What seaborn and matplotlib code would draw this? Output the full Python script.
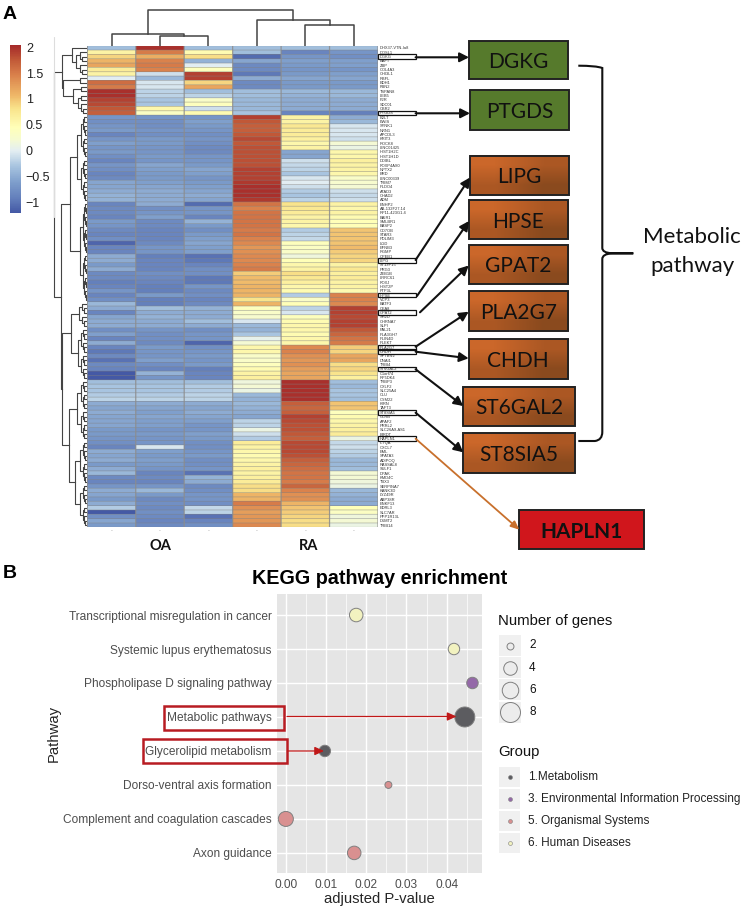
#!/usr/bin/env python3
import matplotlib
matplotlib.use("Agg")
import matplotlib.pyplot as plt
from matplotlib.colors import LinearSegmentedColormap
from matplotlib.patches import PathPatch, Rectangle
from matplotlib.path import Path
import numpy as np
import pandas as pd
import seaborn as sns

W, H = 744, 909

# Panel A, heatmap values by sample, rows top to bottom
samples = ["OA1", "OA2", "OA3", "RA1", "RA2", "RA3"]
genes = [
    "DHX37-VTN-Ia8", "DOSL1", "DGKG", "BAFT", "ZBP", "COL4A3", "CHI3L1", "RBFL", "BDH1", "FBN2",
    "TSPAN8", "LEB5", "F2R", "SDC01", "CBR2", "PTGDS",
    "B2LT", "EWIS", "SYNK1", "NRN1", "APCDL3", "KRIT3", "ROCK8", "LINC01425", "HIST1H2C", "HIST1H1D",
    "DDIBL", "FOXP4AS0", "NPTX2", "BRD", "LINC00339", "TRIM7", "PLDO4", "ATAD3", "CHAD2", "ADM",
    "ENHP2", "AB-132F27.14", "RP11-423G1.4", "BAIR1", "SMLBR1", "BASP2", "CD7OB", "STAR3", "PDLIM3", "LGD",
    "EFNB3", "RGMP", "CPEB1", "LIPG", "ST13P15", "PRG3", "ZEB1B", "LRRC61", "FOXJ", "HIST2P",
    "FTP3L", "HPSE", "VCP3", "BATF3", "CEA8", "GPAT2", "SH2D", "CHRNA7", "SLPI", "PAL21",
    "PLA3GH7", "PLIN4D", "PLEKT", "PLA2G7", "CHDH", "SPTBN2", "DNAI1", "TRIB4", "ST6GAL2", "C1orf74",
    "RP5DK4", "TRBP3", "CXLF2", "SLC25A4", "CLU", "CYM22", "KIRN", "TAFT3", "ST8SIA5", "GLRB",
    "APAF2", "PRRL2", "SLC26A9-AS1", "BIRDT", "HAPLN1", "IL7QA", "CXCL7", "EML", "SPATA3", "ADIPOQ",
    "RASSAL8", "SULF1", "DPAK", "KMD4C", "TBX3", "SERPINA7", "KANK3D", "LYZ49R", "ABP38R", "ENKF13",
    "EDRL3", "SLC7AR", "PPP1R13L", "D1MT2", "TRIB14",
]
oa1 = [
    -.35, .6, .9, 1.1, 1.2, .7, .6, 0, 1.6, 1.5, 2.0, 2.0, 1.9, 1.85, 1.75, 1.7,
    -.7, -.75, -.7, -.65, -.85, -.7, -.6, -.7, -.65, -.75, -.85, -.7, -.75, -.85, -.8, -.55, -.55, -.5, -.45, -.45,
    -.85, -.8, -.8, -.85, -.65, -.7, -.8, -.85, -.75, -1.1, -.85, -.85, -.5, -.5, -.65, -.5, -.8, -.8, -.9, -.85, -.7, -.85, -.75,
    -.4, -.5, -.85, -.55, -.5, -.5,
    -.75, -.6, -.85, -.5, -.85, -.95, -.8, -1.0, -.8, -.85, -1.2, -1.2,
    -.35, -.3, -.3, -.25, -.2, -.5, -.55, -.5, -.55, -.55, -.55, -.65, -.65, -.7,
    -.75, -.85, -.5, -.55, -.5, -.65, -.5, -.4, -.8, -.85,
    -.7, -.5, -.55, -.65, -.5, -.25, -1.2, -.75, -.55, -.65,
]
oa2 = [
    2.0, 1.5, 1.15, 1.45, 1.5, 1.45, -.1, -.4, -.05, -.05, -.2, -.2, -.3, -.3, .55, .35,
    -.7, -.75, -.75, -.7, -.75, -.65, -.65, -.7, -.7, -.65, -.7, -.55, -.6, -.65, -.65, -.6, -.55, -.5, -.5, -.5,
    -.5, -.75, -.7, -.6, -.8, -.8, -.85, -.85, -.85, -.8, -.7, -.7, -.9, -.85, -.85, -.85, -.75, -.8, -.85, -.9, -.9, -.65, -.9,
    -.9, -.35, -.5, -.45, -.5, -.5,
    -.7, -.75, -.75, -.8, -.65, -.7, -.7, -.6, -.75, -.85, -.45, -.7,
    -.35, -.3, -.3, -.25, -.2, -.5, -.55, -.6, -.55, -.6, -.6, -.7, -.65, -.7,
    -.7, -.05, -.6, -.65, -.6, -.65, -.7, -.85, -.8, -.85,
    -.7, -.4, -.65, -.8, -.75, -.8, -.75, -.8, -.85, -.8,
]
oa3 = [
    -.35, .5, .85, -.45, 0, .4, 1.9, 1.9, .9, 1.2, -.35, -.2, .3, .4, -.1, .5,
    -.7, -.6, -.65, -.7, -.75, -.7, -.75, -.8, -.8, -.7, -.7, -.65, -.55, -.6, -.7, -.65, -.6, -.55, -.5, -.55,
    -1.05, -.7, -.7, -.85, -.45, -.65, -.75, -.65, -.6, -.55, -.6, -.6, -1.0, -.95, -.85, -.75, -.75, -.95, -.95, -.7, -.8, -.75, -.85,
    -.8, -.45, -.5, -.5, -.35, -.5,
    -.75, -.7, -.7, -1.1, -.75, -.7, -.65, -.7, -.65, -.9, -.85, -.85,
    -.35, -.25, -.25, -.2, -.2, -.5, -.55, -.5, -.55, -.6, -.7, -.7, -.6, -.65,
    -.75, -.75, -.7, -.65, -.75, -.75, -.7, -1.0, -.45, -.5,
    -.8, -.75, -.7, -.7, -.75, -.15, -.2, -1.0, -.85, -.75,
]
ra1 = [
    -.35, -.35, -1.05, -.55, -.8, -.8, -.95, -.5, -.8, -.8, -.35, -.35, -.4, -.4, -.4, -.3,
    1.9, 1.75, 1.7, 1.7, 1.75, 1.85, 1.75, 1.8, 1.8, 1.8, 1.8, 1.8, 1.9, 1.9, 1.9, 1.95, 2.0, 2.0, 2.0, 1.95,
    1.55, 1.45, 1.55, 1.55, 1.55, 1.55, 1.5, 1.55, 1.45, 1.4, 1.3, 1.35, 1.4, 1.4, 1.45, 1.5, .95, 1.05, 1.05, 1.1, 1.1, 1.1, .8,
    1.1, .4, .3, .25, -.05, -.4,
    -.45, -.3, .05, .2, .55, .55, .3, .3, .4, .5, .6, .65,
    .15, .2, .1, -.4, -.45, -.4, -.45, -.5, -.55, -.2, -.2, .1, -.1, -.25,
    .7, .6, .55, .5, .55, .6, .65, .6, .65, .7,
    .85, .85, 1.1, 1.1, 1.5, 1.35, 1.25, 1.3, 1.3, 1.4,
]
ra2 = [
    -.35, -.85, -.7, -.6, -.65, -.7, -.65, -.55, -.65, -.65, -.4, -.45, -.5, -.5, -.5, -.85,
    .6, .6, .75, .7, .7, .65, .55, .6, -.55, -.55, -.1, -.15, -.2, -.3, -.05, 0, -.1, -.25, -.3, -.2,
    .8, .75, .7, .6, .6, .55, -.25, -.2, -.15, .4, .35, .3, .15, .45, .55, .6, .85, .75, .65, .55, .5, -.25, .3,
    .45, -.2, -.05, .4, .5, .55,
    .55, .5, .55, .55, 1.4, 1.45, 1.35, 1.3, 1.35, 1.25, 1.2, 1.2,
    2.0, 2.0, 2.0, 2.0, 2.0, 1.7, 1.65, 1.7, 1.9, 1.85, 1.8, 1.8, 1.75, 1.7,
    1.85, 1.85, 1.85, 1.8, 1.7, 1.65, 1.6, 1.55, 1.55, 1.5,
    1.65, 1.45, 1.35, 1.35, 1.1, 1.0, .95, .9, .85, .85,
]
ra3 = [
    -.35, -.7, -.75, -.6, -.6, -.7, -.6, -.55, -.65, -.65, -.4, -.4, -.5, -.5, -.5, -.9,
    -.5, -.4, -.05, -.05, -.05, -.1, .2, .1, .55, .55, .65, .6, .6, .55, .3, .25, .2, -.1, -.15, -.1,
    .6, .55, .6, .5, .45, .45, 1.0, 1.0, 1.0, 1.0, 1.05, .95, .9, .9, .6, .75, .65, .7, .6, .6, .5, 1.45, 1.45,
    1.4, 1.9, 1.9, 1.85, 1.9, 1.9,
    1.75, 1.65, 1.55, 1.5, .95, .9, 1.2, 1.2, .85, .9, .8, .65,
    -.35, -.4, -.3, -.3, -.35, 1.0, 1.0, .4, .5, .55, .6, .65, .7, .1,
    -.15, -.1, -.2, -.25, -.4, -.4, -.35, .2, .2, .15,
    .1, -.4, -.45, -.5, -.5, .45, .35, .15, .2, .1,
]
cbar_ticks = [2, 1.5, 1, 0.5, 0, -0.5, -1]
cbar_labels = ["2", "1.5", "1", "0.5", "0", "\u22120.5", "\u22121"]

# dendrograms: [height, left, right], an int is a run of that many leaves
col_tree = [35.4, [11.7, 1, [10, 1, 1]], [25.7, 1, [21, 1, 1]]]
row_tree = [
    33,
    [25, [15, 1, [11, 3, 3]], [24, [7, 1, 1], [14, [6, 1, 1], [9, 2, 3]]]],
    [26,
     [17, [10, 10, 10], [7, 12, 11]],
     [25.5,
      [16.5, [8, 3, 3], [9, 6, 6]],
      [18, [10, 7, 7], [12, [7, 5, 5], [7, 5, 5]]]]],
]

# gene callouts: label, row label, box colour kind
green_genes = ["DGKG", "PTGDS"]
orange_genes = ["LIPG", "HPSE", "GPAT2", "PLA2G7", "CHDH", "ST6GAL2", "ST8SIA5"]

# Panel B
pathways = [
    "Transcriptional misregulation in cancer", "Systemic lupus erythematosus",
    "Phospholipase D signaling pathway", "Metabolic pathways", "Glycerolipid metabolism",
    "Dorso-ventral axis formation", "Complement and coagulation cascades", "Axon guidance",
]
p_values = [0.0175, 0.0418, 0.0464, 0.0445, 0.0097, 0.0255, 0.0, 0.017]
gene_counts = [4, 3, 3, 8, 3, 2, 5, 4]
groups = [
    "6. Human Diseases", "6. Human Diseases", "3. Environmental Information Processing",
    "1.Metabolism", "1.Metabolism", "5. Organismal Systems", "5. Organismal Systems",
    "5. Organismal Systems",
]
group_names = ["1.Metabolism", "3. Environmental Information Processing", "5. Organismal Systems", "6. Human Diseases"]
group_colors = ["#5c5c60", "#9468a8", "#d99090", "#f2f2c0"]
legend_counts = [2, 4, 6, 8]
x_ticks = [0.0, 0.01, 0.02, 0.03, 0.04]

sns.set_style("white")
plt.rcParams["font.family"] = ["Liberation Sans", "DejaVu Sans"]


def px_axes(left, top, right, bottom, **kw):
    return fig.add_axes([left / W, 1 - bottom / H, (right - left) / W, (bottom - top) / H], **kw)


def expand(node, h):
    # leaves too small to read, split the run evenly
    if isinstance(node, list):
        return node
    if node == 1:
        return 1
    return [h * 0.68, expand(node // 2, h * 0.68), expand(node - node // 2, h * 0.68)]


def draw_tree(ax, node, first, horizontal, **kw):
    # returns position, height and the next free leaf
    if node == 1:
        return first + 0.5, 0, first + 1
    h = node[0]
    a, ha, nxt = draw_tree(ax, expand(node[1], h), first, horizontal, **kw)
    b, hb, nxt = draw_tree(ax, expand(node[2], h), nxt, horizontal, **kw)
    pos = [a, a, b, b]
    hts = [ha, h, h, hb]
    if horizontal:
        ax.plot(hts, pos, **kw)
    else:
        ax.plot(pos, hts, **kw)
    return (a + b) / 2, h, nxt


fig = plt.figure(figsize=(W / 100, H / 100), dpi=100)

# ---- panel A ----
hm_left, hm_top, hm_right, hm_bottom = 87.3, 45.7, 378, 527.3
heat_cmap = LinearSegmentedColormap.from_list(
    "heat",
    [(0.0, "#4459a5"), (0.09, "#6480bc"), (0.185, "#7f9fcc"), (0.28, "#a9c5e0"),
     (0.37, "#e3eef2"), (0.44, "#f6fbd0"), (0.51, "#ffffb8"), (0.62, "#f9e48c"),
     (0.70, "#efb868"), (0.82, "#da824c"), (0.91, "#c25a38"), (1.0, "#a52a2a")],
)
df = pd.DataFrame({"OA1": oa1, "OA2": oa2, "OA3": oa3, "RA1": ra1, "RA2": ra2, "RA3": ra3}, index=genes)

ax_hm = px_axes(hm_left, hm_top, hm_right, hm_bottom)
ax_cb = px_axes(10, 45, 21, 213)
sns.heatmap(
    df, ax=ax_hm, cbar_ax=ax_cb, cmap=heat_cmap, vmin=-1.2, vmax=2.04,
    linewidths=0, xticklabels=["-"] * 6, yticklabels=genes,
)
# cell borders drawn unsnapped so the thin rows stay even
row_lines = ax_hm.hlines(range(len(genes) + 1), 0, 6, color="#808080", lw=0.55, alpha=0.55)
col_lines = ax_hm.vlines(range(7), 0, len(genes), color="#8c8c8c", lw=0.9, alpha=0.85)
row_lines.set_snap(False)
col_lines.set_snap(False)
ax_hm.yaxis.tick_right()
ax_hm.tick_params(axis="y", length=0, pad=1.2, labelsize=2.9, labelrotation=0, labelcolor="#333333")
ax_hm.tick_params(axis="x", length=0, pad=0.5, labelsize=4, labelcolor="#999999", labelrotation=0)
for side in ax_hm.spines.values():
    side.set_visible(False)
ax_cb.set_yticks(cbar_ticks)
ax_cb.set_yticklabels(cbar_labels, fontsize=9, color="#222222")
ax_cb.tick_params(axis="y", length=0, pad=3.5)

ax_cd = px_axes(hm_left, 45.7 - 37, hm_right, 45.7)
ax_cd.set_xlim(0, 6)
ax_cd.set_ylim(0, 37)
ax_cd.axis("off")
draw_tree(ax_cd, col_tree, 0, False, color="#444444", lw=1.1, solid_capstyle="projecting")

ax_rd = px_axes(hm_left - 37, hm_top, hm_left, hm_bottom)
ax_rd.set_xlim(37, 0)
ax_rd.set_ylim(len(genes), 0)
ax_rd.axis("off")
draw_tree(ax_rd, row_tree, 0, True, color="#444444", lw=0.8, solid_capstyle="projecting")

# ---- panel B ----
ax_b = px_axes(277.4, 594.3, 481.7, 873.3)
ax_b.set_facecolor("#e5e5e5")
point_df = pd.DataFrame({"pathway": pathways, "p": p_values, "genes": gene_counts, "group": groups})
# marker area for the number of genes
gene_sizes = {2: 25, 3: 68, 4: 95, 5: 117, 6: 141, 8: 207}
ax_b.set_axisbelow(True)
ax_b.grid(True, which="major", color="white", lw=1.0)
ax_b.grid(True, which="minor", axis="x", color="white", lw=0.5)
sns.scatterplot(
    data=point_df, x="p", y="pathway", hue="group", size="genes", ax=ax_b,
    palette=dict(zip(group_names, group_colors)), sizes=gene_sizes,
    edgecolor="#808080", linewidth=0.7, legend=False, zorder=3, clip_on=False,
)
ax_b.set_xlim(-0.0021, 0.0487)
ax_b.set_ylim(7.6, -0.61)
ax_b.set_xticks(x_ticks)
ax_b.set_xticklabels([f"{t:.2f}" for t in x_ticks])
ax_b.set_xticks([t + 0.005 for t in x_ticks], minor=True)
ax_b.tick_params(axis="both", which="major", length=2.5, width=0.8, color="#333333",
                 labelsize=8.6, labelcolor="#4d4d4d", pad=1.5)
ax_b.tick_params(axis="x", which="minor", length=0)
ax_b.set_xlabel("adjusted P-value", fontsize=10.7, labelpad=1)
ax_b.set_ylabel("Pathway", fontsize=10.7)
ax_b.yaxis.set_label_coords((61 - 277.4) / 204.3, 0.5)
for side in ax_b.spines.values():
    side.set_visible(False)

# ---- everything placed by hand, in pixels ----
ov = fig.add_axes([0, 0, 1, 1], zorder=5)
ov.patch.set_alpha(0)
ov.axis("off")


def gene_box(name, x0, x1, y0, y1, kind):
    if kind == "green":
        ov.add_patch(Rectangle((x0, y0), x1 - x0, y1 - y0, fc="#567a2c", ec="none"))
    elif kind == "orange":
        ov.imshow([[0, 0.5], [0.5, 1]], extent=(x0, x1, y1, y0), aspect="auto",
                  cmap=orange_cmap, interpolation="bilinear", vmin=0, vmax=1)
    else:
        ov.add_patch(Rectangle((x0, y0), x1 - x0, y1 - y0, fc="#d0161c", ec="none"))
    ov.add_patch(Rectangle((x0, y0), x1 - x0, y1 - y0, fc="none", ec="#222222", lw=1.4))
    ov.text((x0 + x1) / 2, (y0 + y1) / 2, name, ha="center", va="center_baseline", fontsize=15,
            family="Lato", color="#111111", fontweight="bold" if kind == "red" else "normal")


orange_cmap = LinearSegmentedColormap.from_list("box", ["#cb672a", "#ac5824", "#8a4a1e"])
gene_box("DGKG", 468.7, 567.7, 40.7, 79, "green")
gene_box("PTGDS", 470, 568.7, 90.3, 129.7, "green")
gene_box("LIPG", 470, 568.7, 155.7, 195, "orange")
gene_box("HPSE", 468.7, 567.7, 200.3, 238.7, "orange")
gene_box("GPAT2", 468.7, 567.7, 245.3, 283.7, "orange")
gene_box("PLA2G7", 468.7, 567.7, 291, 330.7, "orange")
gene_box("CHDH", 468.7, 567.7, 339.3, 378.7, "orange")
gene_box("ST6GAL2", 463.3, 575, 386.7, 426, "orange")
gene_box("ST8SIA5", 463.3, 575, 433.3, 472.7, "orange")
gene_box("HAPLN1", 519.3, 644.3, 510, 549.3, "red")

# white label boxes on the heatmap's gene names
row_h = (hm_bottom - hm_top) / len(genes)
for g in green_genes + orange_genes + ["HAPLN1"]:
    yc = hm_top + row_h * (genes.index(g) + 0.5)
    ov.add_patch(Rectangle((377.5, yc - 2.3), 38, 4.6, fc="none", ec="#111111", lw=0.9))

arrows = [
    ((415.6, 57.3), (469, 57.3)), ((415.6, 113.3), (470, 113.3)),
    ((415.6, 260), (470, 177.5)), ((417, 296), (469, 221)),
    ((420, 312.3), (468.7, 265.5)), ((415.6, 346.7), (468.7, 311.7)),
    ((415.6, 351.7), (468.7, 358.3)), ((415.6, 369.3), (463.3, 406)),
    ((415.6, 412.7), (463.3, 452.3)),
]
for start, end in arrows:
    ov.annotate("", xy=end, xytext=start,
                arrowprops=dict(arrowstyle="-|>,head_width=0.28,head_length=0.55", color="#111111",
                                lw=1.5, shrinkA=0, shrinkB=0))
ov.annotate("", xy=(519.3, 529.7), xytext=(415.6, 438.7),
            arrowprops=dict(arrowstyle="-|>,head_width=0.22,head_length=0.5", color="#c8702c",
                            lw=1.3, shrinkA=0, shrinkB=0))

# the curly bracket round the metabolic genes
bracket = Path(
    [(578.3, 65.7), (596, 65.7), (602.3, 68), (602.3, 74), (602.3, 248), (602.3, 252.8), (612, 253.3),
     (633.3, 253.3), (612, 253.3), (602.3, 254), (602.3, 259), (602.3, 432), (602.3, 440), (595, 441), (578.3, 441)],
    [Path.MOVETO, Path.CURVE3, Path.CURVE3, Path.LINETO, Path.LINETO, Path.CURVE3, Path.CURVE3,
     Path.LINETO, Path.LINETO, Path.CURVE3, Path.CURVE3, Path.LINETO, Path.CURVE3, Path.CURVE3, Path.LINETO],
)
ov.add_patch(PathPatch(bracket, fc="none", ec="#111111", lw=1.5))
ov.text(692, 235, "Metabolic", ha="center", va="center_baseline", fontsize=16, family="Lato", color="#111111")
ov.text(692, 264, "pathway", ha="center", va="center_baseline", fontsize=16, family="Lato", color="#111111")

ov.text(160, 545, "OA", ha="center", va="center_baseline", fontsize=10.5, family="Lato", fontweight="bold", color="#111111")
ov.text(308.5, 545, "RA", ha="center", va="center_baseline", fontsize=10.5, family="Lato", fontweight="bold", color="#111111")
ov.plot([53.5, 53.5], [37, 217], color="#dddddd", lw=0.8)

ov.text(3, 14.5, "A", fontsize=14, fontweight="bold", va="center", color="black")
ov.text(3, 573, "B", fontsize=14, fontweight="bold", va="center", color="black")
ov.text(380, 578, "KEGG pathway enrichment", ha="center", va="center", fontsize=14.2, fontweight="bold", color="black")

# red highlights in panel B
ov.add_patch(Rectangle((164.3, 705.7), 119.7, 24.3, fc="none", ec="#b81c22", lw=1.8))
ov.add_patch(Rectangle((142.7, 739.3), 144.6, 23.4, fc="none", ec="#b81c22", lw=1.8))
for start, end in [((287, 716.5), (456.5, 716.5)), ((288, 751), (324, 751))]:
    ov.annotate("", xy=end, xytext=start,
                arrowprops=dict(arrowstyle="-|>,head_width=0.25,head_length=0.55", color="#c01818",
                                lw=0.9, shrinkA=0, shrinkB=0))

# legends of panel B
ov.text(498, 621, "Number of genes", va="center", fontsize=10.7, color="#111111")
for i, n in enumerate(legend_counts):
    yc = 645.5 + i * 22.2
    ov.add_patch(Rectangle((498.5, yc - 10.5), 22.5, 21, fc="#f0f0f0", ec="none"))
    ov.scatter([509.7], [yc], s={2: 25, 4: 95, 6: 141, 8: 207}[n], fc="#ececec", ec="#808080", lw=0.7)
    ov.text(529, yc, str(n), va="center", fontsize=8.5, color="#111111")
ov.text(498, 752, "Group", va="center", fontsize=10.7, color="#111111")
for i, (name, col) in enumerate(zip(group_names, group_colors)):
    yc = 777 + i * 22
    ov.add_patch(Rectangle((498.5, yc - 10.3), 21.5, 20.6, fc="#f0f0f0", ec="none"))
    ov.scatter([509.5], [yc], s=8, fc=col, ec="#808080", lw=0.4)
    ov.text(528.5, yc, name, va="center", fontsize=8.5, color="#222222")

ov.set_xlim(0, W)
ov.set_ylim(H, 0)

fig.savefig("out.png", dpi=100)
